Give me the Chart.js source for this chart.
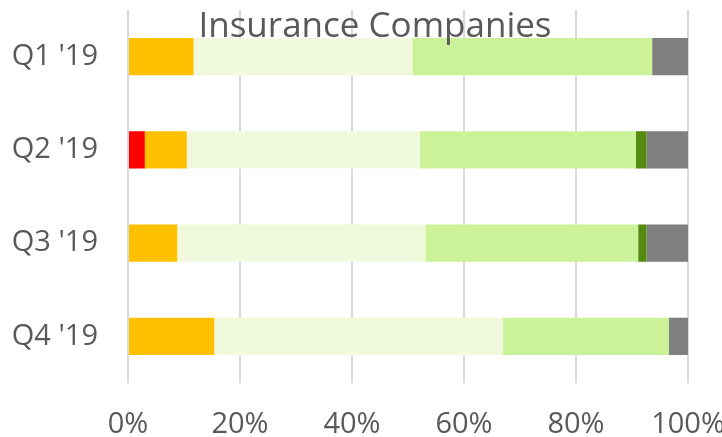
<!DOCTYPE html>
<html>
<head>
<meta charset="utf-8">
<script src="https://cdn.jsdelivr.net/npm/chart.js@4"></script>
<style>
  html, body { margin: 0; padding: 0; background: #fff; overflow: hidden; }
  #wrap { position: relative; width: 722px; height: 437px; }
  #title {
    position: absolute; left: 0; width: 750px; top: 0px;
    text-align: center; font-family: "Open Sans", sans-serif;
    font-size: 35px; color: #595959; pointer-events: none; z-index: 2;
  }
</style>
</head>
<body>
<div id="wrap">
  <canvas id="chart" width="722" height="437"></canvas>
  <div id="title">Insurance Companies</div>
</div>
<script>
// ---- data (percent of each quarter) ----
const quarters = ["Q1 '19", "Q2 '19", "Q3 '19", "Q4 '19"];
const redShare = [0, 3.0, 0, 0];
const amberShare = [11.7, 7.5, 8.8, 15.4];
const paleGreenShare = [39.1, 41.6, 44.3, 51.5];
const lightGreenShare = [42.8, 38.6, 38.0, 29.7];
const darkGreenShare = [0, 1.9, 1.5, 0];
const greyShare = [6.4, 7.4, 7.4, 3.4];
const xTicks = [0, 20, 40, 60, 80, 100];

const textColor = "#595959";
const font = { family: "'Open Sans', sans-serif", size: 29 };

const ds = (label, data, color) => ({
  label, data, backgroundColor: color, borderWidth: 0,
  barPercentage: 0.4, categoryPercentage: 1.0,
});

new Chart(document.getElementById("chart"), {
  type: "bar",
  data: {
    labels: quarters,
    datasets: [
      ds("Red", redShare, "#FF0000"),
      ds("Amber", amberShare, "#FFC000"),
      ds("Pale green", paleGreenShare, "#F0F9DC"),
      ds("Light green", lightGreenShare, "#CBF298"),
      ds("Dark green", darkGreenShare, "#538A0F"),
      ds("Grey", greyShare, "#7F7F7F"),
    ],
  },
  options: {
    indexAxis: "y",
    responsive: false,
    animation: false,
    devicePixelRatio: 1,
    layout: { padding: { top: 10, right: 34, left: 0, bottom: 0 } },
    plugins: { legend: { display: false }, tooltip: { enabled: false }, title: { display: false } },
    scales: {
      x: {
        stacked: true,
        min: 0, max: 100,
        afterBuildTicks: (s) => { s.ticks = xTicks.map((v) => ({ value: v })); },
        afterFit: (s) => { s.height = 54; s.paddingLeft = 0; s.paddingRight = 0; },
        grid: { color: "#D9D9D9", lineWidth: 2, drawTicks: false },
        border: { display: false },
        ticks: {
          color: textColor, font, padding: 24, maxRotation: 0,
          callback: (v) => v + "%",
        },
      },
      y: {
        stacked: true,
        afterFit: (s) => { s.width = 128; s.paddingTop = 0; s.paddingBottom = 0; },
        grid: { display: false, drawTicks: false },
        border: { display: false },
        ticks: { color: textColor, font, padding: 30 },
      },
    },
  },
});
</script>
</body>
</html>
